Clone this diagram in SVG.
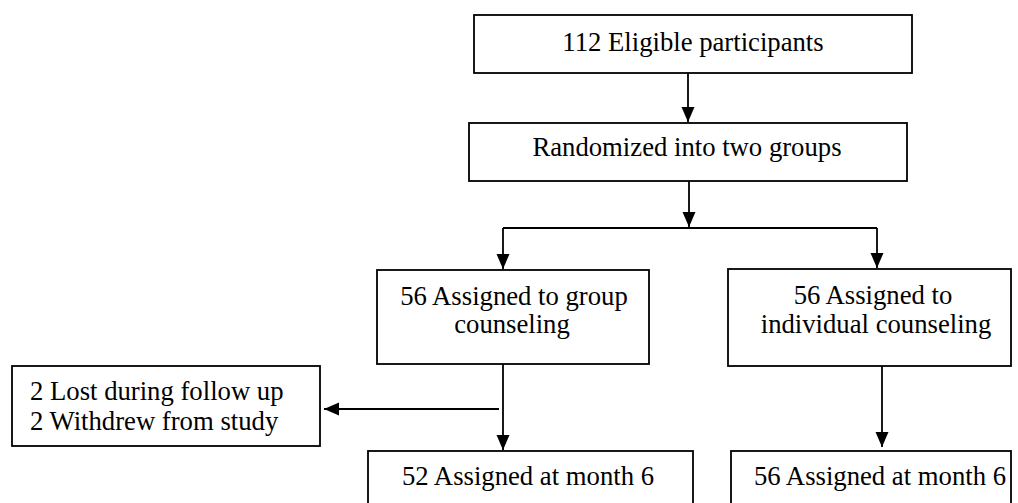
<svg xmlns="http://www.w3.org/2000/svg" width="1018" height="503" viewBox="0 0 1018 503">
<defs>
<style>
.box{fill:#fff;stroke:#000;stroke-width:1.8}
.t{font-family:'Liberation Serif','Times New Roman','DejaVu Serif',serif;font-size:26.7px;fill:#000}
.c{text-anchor:middle}
.ln{fill:none;stroke:#000;stroke-width:1.8}
</style>
<marker id="ah" markerUnits="userSpaceOnUse" markerWidth="16" markerHeight="16" viewBox="0 0 16 16" refX="15" refY="8" orient="auto">
<path d="M0,1.5 L15,8 L0,14.5 Z" fill="#000"/>
</marker>
</defs>
<g id="connectors">
<line class="ln" x1="688" y1="73" x2="688" y2="122" marker-end="url(#ah)"/>
<line class="ln" x1="689" y1="181" x2="689" y2="227" marker-end="url(#ah)"/>
<polyline class="ln" points="503,228 877,228"/>
<line class="ln" x1="503" y1="228" x2="503" y2="269" marker-end="url(#ah)"/>
<line class="ln" x1="877" y1="228" x2="877" y2="268" marker-end="url(#ah)"/>
<line class="ln" x1="503" y1="364" x2="503" y2="450" marker-end="url(#ah)"/>
<line class="ln" x1="499" y1="409" x2="324" y2="409" marker-end="url(#ah)"/>
<line class="ln" x1="882" y1="366" x2="882" y2="447" marker-end="url(#ah)"/>
</g>
<g id="eligible">
<rect class="box" x="474" y="15" width="438" height="58"/>
<text class="t c" font-family="Liberation Serif, serif" x="693" y="51">112 Eligible participants</text>
</g>
<g id="randomized">
<rect class="box" x="469" y="123" width="438" height="58"/>
<text class="t c" font-family="Liberation Serif, serif" x="687" y="156">Randomized into two groups</text>
</g>
<g id="group">
<rect class="box" x="377" y="270" width="272" height="94"/>
<text class="t c" font-family="Liberation Serif, serif" x="514" y="305">56 Assigned to group</text>
<text class="t c" font-family="Liberation Serif, serif" x="512" y="333">counseling</text>
</g>
<g id="individual">
<rect class="box" x="728" y="269" width="283" height="97"/>
<text class="t c" font-family="Liberation Serif, serif" x="873" y="304">56 Assigned to</text>
<text class="t c" font-family="Liberation Serif, serif" x="876" y="333">individual counseling</text>
</g>
<g id="dropout">
<rect class="box" x="12" y="366" width="308" height="80"/>
<text class="t" font-family="Liberation Serif, serif" x="30" y="400">2 Lost during follow up</text>
<text class="t" font-family="Liberation Serif, serif" x="30" y="430">2 Withdrew from study</text>
</g>
<g id="group6">
<rect class="box" x="368" y="451" width="325" height="80"/>
<text class="t c" font-family="Liberation Serif, serif" x="528" y="485">52 Assigned at month 6</text>
</g>
<g id="individual6">
<rect class="box" x="731" y="451" width="280" height="80"/>
<text class="t c" font-family="Liberation Serif, serif" x="880" y="485">56 Assigned at month 6</text>
</g>
</svg>
